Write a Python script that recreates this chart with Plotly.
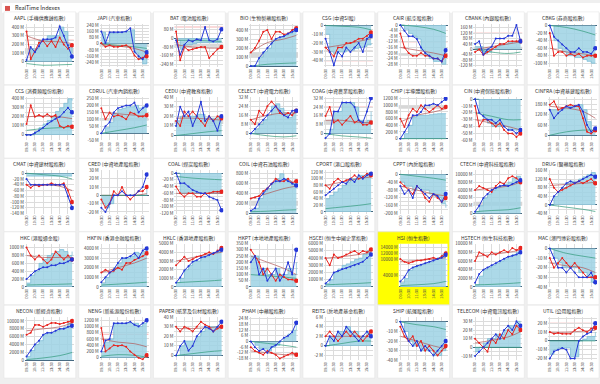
import math
import plotly.graph_objects as go

# ---------------- data ----------------
TIMES = ["09:30", "10:00", "10:30", "11:00", "11:30", "12:00",
         "13:30", "14:00", "14:30", "15:00", "15:30", "16:00"]
TICK_TIMES = ["09:30", "10:30", "11:30", "13:30", "14:30", "15:30"]
SMOOTH_IDX = [0, 4, 8, 11]

KEYS = ["AAPL", "JAPI", "BAT", "BIO", "CSG", "CAIR", "CBANK", "CBKG",
        "CCS", "CDRUL", "CEDU", "CELECT", "COAG", "CHIP", "CIN", "CINFRA",
        "CMAT", "CRED", "COAL", "COIL", "CPORT", "CPPT", "CTECH", "DRUG",
        "HKC", "HKFIN", "HKLC", "HKPT", "HSCEI", "HSI", "HSTECH", "MAC",
        "NECON", "NENG", "PAPER", "PHAM", "REITS", "SHIP", "TELECOM", "UTIL"]

TITLES = ["AAPL (手機供應鏈指數)", "JAPI (汽車指數)", "BAT (電池股指數)", "BIO (生物製藥股指數)",
          "CSG (中資SI股)", "CAIR (航空股指數)", "CBANK (內銀股指數)", "CBKG (券商股指數)",
          "CCS (消費類股份指數)", "CDRUL (汽車內銷指數)", "CEDU (中資教育指數)", "CELECT (中資電力指數)",
          "COAG (中資農業股指數)", "CHIP (半導體股指數)", "CIN (中資保險股指數)", "CINFRA (中資基建股指數)",
          "CMAT (中資建材股指數)", "CRED (中資地產股指數)", "COAL (煤炭股指數)", "COIL (中資石油股指數)",
          "CPORT (港口股指數)", "CPPT (內房股指數)", "CTECH (中資科技股指數)", "DRUG (醫藥股指數)",
          "HKC (港股通金股)", "HKFIN (香港金融股指數)", "HKLC (香港地產股指數)", "HKPT (本地地產股指數)",
          "HSCEI (恒生中國企業指數)", "HSI (恒生指數)", "HSTECH (恒生科技指數)", "MAC (澳門博彩股指數)",
          "NECON (新經濟指數)", "NENG (新能源股份指數)", "PAPER (紙業及包材股指數)", "PHAM (中藥股指數)",
          "REITS (房地產基金指數)", "SHIP (航運股指數)", "TELECOM (中資電訊股指數)", "UTIL (公用股指數)"]

# y axis per panel: [min, max, label step, grid step]
YRANGES = [[-60, 440, 100, 50], [-300, 260, 80, 40], [-260, 130, 80, 40], [-10, 470, 100, 50],
           [-47, 2, 10, 5], [-30, 1, 4, 4], [-130, 190, 40, 40], [-110, 5, 20, 20],
           [-60, 420, 100, 50], [-50, 260, 50, 50], [-5, 40, 10, 5], [-6, 32, 8, 4],
           [-6, 33, 8, 4], [-50, 1250, 200, 200], [-60, 3, 10, 10], [-30, 225, 60, 30],
           [-140, 10, 20, 20], [-22, 30, 10, 10], [-120, 8, 20, 10], [-10, 870, 200, 100],
           [-5, 125, 20, 20], [-200, 20, 40, 20], [0, 11000, 2000, 2000], [-40, 160, 40, 20],
           [0, 1100, 200, 200], [0, 4500, 1000, 500], [0, 5000, 1000, 1000], [0, 350, 50, 50],
           [0, 6000, 1000, 1000], [0, 15500, 2000, 2000], [0, 10000, 2000, 2000], [-40, 5, 10, 5],
           [0, 11000, 2000, 2000], [-80, 1300, 200, 200], [-5, 40, 10, 5], [-20, 26, 6, 6],
           [-3, 6, 2, 1], [-40, 5, 10, 5], [-15, 35, 10, 5], [-22, 27, 10, 5]]
HSI_TICKS = [4000, 10000, 12000, 14000]

BANDS = [[100, 150], [-40, 0], [-90, -50], [100, 150], [-30, -28], [-22, -20], [0, 20], None,
         None, [90, 110], [12, 16], [8, 10], [8, 12], [900, 1000], None, None,
         None, None, None, [150, 250], None, None, [2000, 3000], None,
         None, None, None, None, None, None, None, None,
         None, None, None, None, None, None, None, None]
LEVELS = [250, None, 100, None, -40, -12, 120, None,
          None, None, 30, None, 24, None, None, None,
          -60, None, None, None, None, None, None, None,
          None, None, None, None, None, None, None, None,
          None, 750, None, None, None, None, None, 20]

AAPL_AREA = [10, 150, 150, 250, 250, 300, 300, 300, 400, 350, 200, 100]
AAPL_BLUE = [20, 170, 110, 180, 260, 260, 260, 280, 410, 300, 190, 60]
AAPL_RED = [350, 30, 120, 220, 240, 180, 240, 170, 280, 200, 150, 190]
AAPL_MA = [300, 240, 230, 210]
AAPL_GREEN = [-20, -40, -35, -30]

JAPI_AREA = [150, 20, 140, 140, 150, 150, 160, 180, -120, -200, -260, -150]
JAPI_BLUE = [160, 10, 150, 150, 150, 150, 160, 200, -100, -160, -200, -110]
JAPI_RED = [10, -40, -20, -40, -40, -30, -20, -50, -150, -200, -180, -160]
JAPI_MA = [-10, -30, -60, -110]
JAPI_GREEN = [0, -20, -40, -60]

BAT_AREA = [-20, -100, -60, -60, -50, -40, -40, -40, -40, -40, -40, -40]
BAT_BLUE = [-20, -150, -60, -20, -30, -10, -20, 100, -20, -30, -10, 80]
BAT_RED = [60, -200, -80, -110, -100, -90, -80, -80, -180, -140, -100, -80]
BAT_MA = [-60, -80, -90, -90]
BAT_GREEN = [-20, -20, -25, -30]

BIO_AREA = [0, 0, 100, 160, 200, 280, 300, 320, 340, 360, 400, 430]
BIO_BLUE = [0, 0, 90, 150, 200, 250, 300, 320, 330, 360, 380, 400]
BIO_RED = [150, 200, 280, 380, 400, 300, 380, 380, 350, 360, 400, 420]
BIO_MA = [150, 260, 300, 340]
BIO_GREEN = [0, 20, 30, 35]

CSG_AREA = [-10, -30, -32, -30, -30, -28, -28, -26, -25, -24, -22, -20]
CSG_BLUE = [-15, -30, -45, -30, -35, -25, -30, -25, -20, -30, -15, -12]
CSG_RED = [-25, -30, -35, -25, -25, -20, -20, -18, -15, -15, -12, -8]
CSG_MA = [-25, -22, -18, -15]
CSG_GREEN = [0, -1, -2, -5]

CAIR_AREA = [0, -3, -6, -8, -10, -18, -22, -24, -26, -26, -28, -24]
CAIR_BLUE = [0, -4, -8, -8, -10, -16, -20, -22, -24, -24, -26, -18]
CAIR_RED = [-6, -16, -20, -22, -22, -20, -22, -22, -24, -24, -26, -22]
CAIR_MA = [-16, -18, -20, -22]
CAIR_GREEN = [0, -1, -3, -6]

CBANK_AREA = [20, 20, -30, -20, 0, 20, 40, 40, 50, 60, 60, 60]
CBANK_BLUE = [40, 60, -40, 0, 20, 80, 80, 80, 100, 100, 180, 60]
CBANK_RED = [-20, 0, -40, -20, 0, 20, 40, 40, 60, 60, 60, 60]
CBANK_MA = [0, 20, 40, 55]
CBANK_GREEN = [0, -20, -30, -20]

CBKG_AREA = [0, -40, -60, -70, -80, -80, -85, -85, -90, -95, -100, -100]
CBKG_BLUE = [0, -30, -40, -50, -60, -70, -70, -60, -70, -70, -75, -60]
CBKG_RED = [-20, -80, -70, -70, -80, -75, -80, -75, -85, -80, -80, -80]
CBKG_MA = [-60, -70, -75, -80]
CBKG_GREEN = [0, -5, -15, -25]

CCS_AREA = [0, 0, 40, 80, 120, 160, 200, 260, 300, 350, 400, 380]
CCS_BLUE = [0, 0, 20, 50, 80, 120, 150, 180, 200, 250, 300, 250]
CCS_RED = [120, 330, 200, 220, 200, 230, 200, 220, 100, 80, 100, 90]
CCS_MA = [200, 210, 200, 180]
CCS_GREEN = [50, 70, 80, 90]

CDRUL_AREA = [0, 40, 80, 140, 170, 180, 190, 190, 200, 180, 190, 190]
CDRUL_BLUE = [0, 50, 80, 150, 180, 190, 200, 200, 220, 150, 180, 200]
CDRUL_RED = [180, 100, 150, 120, 130, 120, 100, 150, 140, 120, 120, 130]
CDRUL_MA = [150, 140, 130, 125]
CDRUL_GREEN = [0, 20, 40, 60]

CEDU_AREA = [15, 20, 20, 20, 20, 22, 22, 18, 18, 18, 20, 20]
CEDU_BLUE = [10, 30, 20, 25, 10, 20, 35, 15, 20, 15, 5, 20]
CEDU_RED = [15, 10, 25, 20, 25, 20, 15, 10, 20, 15, 20, 18]
CEDU_MA = [18, 18, 17, 16]
CEDU_GREEN = [0, 2, 4, 5]

CELECT_AREA = [0, 4, 8, 12, 16, 24, 26, 22, 18, 14, 18, 20]
CELECT_BLUE = [0, 4, 8, 12, 16, 20, 24, 20, 16, 14, 20, 20]
CELECT_RED = [12, 8, 20, 16, 24, 28, 24, 18, 16, 18, 16, 20]
CELECT_MA = [12, 16, 18, 18]
CELECT_GREEN = [0, -2, -3, -2]

COAG_AREA = [0, 4, 20, 20, 28, 28, 28, 24, 12, 10, 12, 20]
COAG_BLUE = [-4, 0, 20, 20, 28, 28, 28, 24, 12, 10, 20, 32]
COAG_RED = [16, 24, 10, 12, 8, 12, 16, 10, 12, 8, 8, 10]
COAG_MA = [12, 12, 10, 10]
COAG_GREEN = [0, -2, -3, -4]

CHIP_AREA = [0, 150, 400, 650, 700, 700, 700, 720, 740, 750, 750, 760]
CHIP_BLUE = [0, 200, 400, 700, 700, 800, 1000, 1000, 1050, 1000, 1100, 1200]
CHIP_RED = [600, 350, 700, 900, 800, 1000, 900, 800, 900, 1000, 900, 950]
CHIP_MA = [500, 700, 800, 900]
CHIP_GREEN = [0, 0, 0, 0]

CIN_AREA = [0, -20, -30, -35, -40, -40, -40, -40, -45, -45, -45, -45]
CIN_BLUE = [0, -20, -25, -30, -30, -35, -30, -40, -45, -45, -50, -45]
CIN_RED = [-10, -40, -30, -30, -35, -40, -35, -45, -50, -50, -55, -50]
CIN_MA = [-30, -35, -40, -45]
CIN_GREEN = [-20, -25, -30, -30]

CINFRA_AREA = [150, 150, 150, 160, 170, 170, 175, 180, 150, 80, 30, 40]
CINFRA_BLUE = [150, 100, 130, 150, 170, 160, 170, 180, 140, 60, 20, 40]
CINFRA_RED = [180, 200, 150, 160, 170, 180, 170, 170, 100, 20, 10, 30]
CINFRA_MA = [170, 160, 140, 100]
CINFRA_GREEN = [0, 20, 30, 30]

CMAT_AREA = [-10, -10, -10, -10, -10, -10, -10, -10, -10, -10, -10, -10]
CMAT_BLUE = [-20, -40, -40, -40, -40, -40, -40, -40, -40, -40, -80, -120]
CMAT_RED = [-40, -50, -40, -45, -40, -40, -35, -40, -40, -35, -60, -100]
CMAT_MA = [-40, -40, -45, -60]
CMAT_GREEN = [0, -5, -10, -20]

CRED_AREA = [-10, -15, -10, 0, 0, 0, 0, 0, 0, 0, 0, 10]
CRED_BLUE = [-15, -20, -10, 0, 0, 5, 0, 0, 0, 5, 10, 25]
CRED_RED = [-5, -15, -10, 5, 0, 10, 0, -5, 0, 5, 5, 10]
CRED_MA = [0, 0, 0, 2]
CRED_GREEN = [0, 0, 0, 0]

COAL_AREA = [0, -60, -60, -60, -60, -60, -60, -60, -60, -60, -60, -60]
COAL_BLUE = [0, -30, -30, -40, -50, -55, -60, -60, -70, -75, -80, -110]
COAL_RED = [-40, -60, -70, -60, -60, -70, -70, -60, -60, -55, -55, -55]
COAL_MA = [-60, -60, -60, -60]
COAL_GREEN = [-10, -15, -18, -20]

COIL_AREA = [50, 100, 300, 450, 500, 600, 700, 800, 700, 650, 600, 600]
COIL_BLUE = [50, 100, 300, 400, 500, 600, 650, 650, 700, 650, 600, 560]
COIL_RED = [300, 320, 350, 450, 500, 600, 700, 650, 650, 700, 620, 650]
COIL_MA = [300, 400, 500, 550]
COIL_GREEN = [30, 40, 60, 70]

CPORT_AREA = [40, 50, 60, 70, 80, 90, 100, 100, 110, 110, 115, 115]
CPORT_BLUE = [50, 60, 70, 80, 90, 85, 100, 90, 110, 100, 110, 115]
CPORT_RED = [80, 70, 90, 100, 90, 95, 100, 110, 100, 105, 115, 110]
CPORT_MA = [80, 90, 100, 105]
CPORT_GREEN = [10, 15, 20, 25]

CPPT_AREA = [-40, -60, -60, -80, -70, -80, -80, -100, -110, -120, -150, -170]
CPPT_BLUE = [-60, -100, -80, -120, -60, -80, -100, -120, -100, -110, -140, -100]
CPPT_RED = [-40, -60, -80, -100, -60, -80, -120, -140, -100, -120, -140, -120]
CPPT_MA = [-60, -80, -100, -110]
CPPT_GREEN = [0, -10, -20, -30]

CTECH_AREA = [500, 2000, 4000, 5000, 6000, 6500, 7000, 7500, 8000, 9000, 9500, 9000]
CTECH_BLUE = [500, 2000, 4000, 5000, 6000, 6500, 7000, 7200, 7000, 7500, 8000, 8500]
CTECH_RED = [6000, 7000, 6500, 6000, 5500, 7000, 8000, 7500, 9000, 9500, 9000, 8000]
CTECH_MA = [6000, 6500, 7000, 8000]
CTECH_GREEN = [500, 800, 1000, 1500]

DRUG_AREA = [0, 40, 60, 80, 100, 110, 110, 120, 130, 140, 150, 140]
DRUG_BLUE = [0, 40, 60, 80, 100, 110, 100, 110, 120, 130, 140, 130]
DRUG_RED = [120, 80, 60, 70, 80, 90, 100, 110, 100, 110, 120, 100]
DRUG_MA = [90, 95, 100, 105]
DRUG_GREEN = [0, -10, -20, -30]

HKC_AREA = [100, 300, 400, 600, 700, 800, 850, 900, 950, 900, 800, 900]
HKC_BLUE = [200, 300, 400, 450, 500, 500, 550, 550, 600, 600, 650, 700]
HKC_RED = [1000, 800, 700, 800, 700, 600, 700, 900, 800, 700, 800, 700]
HKC_MA = [800, 750, 750, 740]
HKC_GREEN = [50, 60, 70, 80]

HKFIN_AREA = [400, 1000, 1500, 2000, 2500, 3000, 3000, 3200, 3600, 3500, 3700, 3900]
HKFIN_BLUE = [500, 1000, 1500, 1800, 2500, 3000, 3000, 3200, 3500, 3000, 3800, 4000]
HKFIN_RED = [1500, 1800, 1500, 1700, 2000, 1800, 2500, 2500, 2800, 3000, 3200, 3500]
HKFIN_MA = [1500, 2000, 2500, 3000]
HKFIN_GREEN = [200, 300, 400, 500]

HKLC_AREA = [500, 1000, 2000, 2500, 3000, 3000, 3500, 3500, 3800, 4000, 4200, 4300]
HKLC_BLUE = [500, 1100, 1900, 2400, 2900, 3100, 3400, 3500, 3700, 3900, 4100, 4300]
HKLC_RED = [2500, 3000, 3500, 3000, 3200, 3500, 3600, 3800, 4000, 3800, 4200, 4500]
HKLC_MA = [3000, 3400, 3800, 4000]
HKLC_GREEN = [500, 600, 700, 800]

HKPT_AREA = [250, 250, 150, 150, 100, 100, 150, 100, 100, 150, 100, 200]
HKPT_BLUE = [200, 250, 100, 150, 50, 100, 150, 50, 100, 200, 100, 300]
HKPT_RED = [300, 250, 200, 100, 150, 100, 50, 100, 80, 60, 60, 50]
HKPT_MA = [250, 200, 150, 100]
HKPT_GREEN = [100, 90, 80, 70]

HSCEI_AREA = [500, 1000, 2000, 2500, 3000, 3200, 3500, 3800, 4000, 4500, 5000, 5200]
HSCEI_BLUE = [500, 1000, 2000, 2200, 2500, 2600, 2800, 3000, 3200, 3500, 4000, 4500]
HSCEI_RED = [4000, 3000, 4500, 4000, 4200, 4500, 4800, 5000, 4600, 5000, 4800, 5200]
HSCEI_MA = [4000, 4200, 4500, 4800]
HSCEI_GREEN = [300, 400, 500, 600]

HSI_AREA = [1500, 3000, 6000, 7000, 7500, 8000, 8500, 9000, 10000, 10500, 11500, 13000]
HSI_BLUE = [2000, 3500, 6000, 7000, 7500, 8000, 8500, 9000, 9500, 10000, 10500, 11500]
HSI_RED = [10000, 9000, 8500, 9000, 9500, 9500, 9800, 10000, 10500, 10000, 11000, 12000]
HSI_MA = [9000, 9500, 10000, 10500]
HSI_GREEN = [500, 800, 1200, 2000]

HSTECH_AREA = [500, 2500, 4000, 4500, 5000, 5500, 6000, 6500, 7000, 7500, 8000, 8500]
HSTECH_BLUE = [1000, 3000, 4000, 4500, 5000, 5500, 6000, 6500, 7000, 7200, 7500, 8000]
HSTECH_RED = [6000, 8000, 7500, 7000, 8000, 7500, 8000, 8500, 8000, 9000, 8500, 9000]
HSTECH_MA = [7000, 7500, 8000, 8500]
HSTECH_GREEN = [500, 600, 800, 1000]

MAC_AREA = [0, -10, -15, -20, -20, -20, -20, -25, -25, -30, -35, -38]
MAC_BLUE = [0, -10, -20, -20, -25, -20, -25, -30, -30, -30, -25, -35]
MAC_RED = [-10, -20, -15, -10, -15, -20, -15, -20, -25, -30, -30, -30]
MAC_MA = [-15, -18, -20, -25]
MAC_GREEN = [0, -5, -8, -10]

NECON_AREA = [1000, 2500, 4000, 5000, 6500, 7000, 7000, 7500, 8000, 8500, 9500, 10500]
NECON_BLUE = [1000, 2500, 4000, 5000, 6500, 7000, 7000, 7500, 8000, 8000, 8500, 8800]
NECON_RED = [6500, 7000, 9000, 9000, 8500, 9000, 9500, 9500, 9200, 9500, 9800, 10000]
NECON_MA = [7500, 8000, 8500, 9500]
NECON_GREEN = [200, 600, 1200, 2000]

NENG_AREA = [200, 500, 600, 1100, 1100, 1100, 1100, 1100, 1100, 1000, 1100, 1200]
NENG_BLUE = [200, 550, 600, 1100, 1100, 1100, 1100, 1150, 1050, 1000, 1100, 1200]
NENG_RED = [950, 200, 300, 400, 380, 400, 350, 200, 100, 0, -50, 80]
NENG_MA = [600, 500, 450, 350]
NENG_GREEN = [50, 100, 80, 20]

PAPER_AREA = [0, 10, 15, 15, 15, 20, 25, 30, 30, 30, 30, 35]
PAPER_BLUE = [0, 10, 15, 5, 10, 20, 25, 30, 28, 25, 30, 35]
PAPER_RED = [30, 25, 30, 28, 25, 30, 35, 32, 30, 25, 28, 30]
PAPER_MA = [28, 28, 29, 30]
PAPER_GREEN = [0, 2, 4, 5]

PHAM_AREA = [0, -4, -8, -8, -10, -6, -4, 0, 4, 8, 12, 18]
PHAM_BLUE = [0, -6, -10, -8, -12, -6, -4, 0, 4, 6, 10, 20]
PHAM_RED = [-6, -10, -12, -14, -10, -12, -14, -18, -16, -14, -12, -14]
PHAM_MA = [-10, -12, -14, -14]
PHAM_GREEN = [0, -2, -4, -6]

REITS_AREA = [0, 2, 2, 3, 3, 4, 3, 3, 2, 2, 3, 3]
REITS_BLUE = [0, 2, 1, 3, 2, 4, 3, 2, 1, 2, 3, 2]
REITS_RED = [2, 3, 2, 1, 2, 3, 2, 3, 2, 1, 2, 3]
REITS_MA = [2, 2, 2, 2]
REITS_GREEN = [0, 0.5, 1, 1]

SHIP_AREA = [0, -10, -20, -25, -25, -30, -30, -30, -35, -35, -30, -25]
SHIP_BLUE = [0, -10, -20, -25, -20, -30, -25, -30, -35, -30, -25, -20]
SHIP_RED = [-5, -15, -20, -15, -25, -20, -30, -25, -30, -35, -30, -25]
SHIP_MA = [-15, -20, -25, -28]
SHIP_GREEN = [0, -3, -5, -8]

TELECOM_AREA = [-5, 0, 5, 10, 10, 15, 15, 20, 25, 25, 30, 30]
TELECOM_BLUE = [-10, -5, 0, 5, 10, 15, 10, 20, 25, 20, 30, 25]
TELECOM_RED = [10, 5, 0, -5, 10, 5, 15, 10, 20, 15, 25, 20]
TELECOM_MA = [5, 8, 12, 18]
TELECOM_GREEN = [0, 0, 0, 0]

UTIL_AREA = [-15, -10, -8, -8, -8, -18, -18, 0, 2, 5, 5, 10]
UTIL_BLUE = [-20, -12, -10, -8, -10, -20, -20, 0, 5, 8, 10, 20]
UTIL_RED = [10, 8, 9, 8, 8, 8, 12, 15, 12, 10, 14, 15]
UTIL_MA = [10, 10, 11, 12]
UTIL_GREEN = [0, 0, 0, 0]

# ---------------- styling / layout ----------------
W, H = 600, 384
FONT = "Noto Sans CJK TC, Noto Sans, sans-serif"
BLUE = "#2437d8"
RED = "#e8231e"
AREA_FILL = "rgba(158,210,228,0.85)"
AREA_LINE = "#74b9d4"
MA_COL = "#b05858"
GREEN_COL = "#2f9a7a"

COL_W = 75
ROW_H = 74.5

fig = go.Figure()
shapes = []
annotations = []
layout_axes = {}

# window title bar
shapes.append(dict(type="rect", xref="paper", yref="paper", x0=0, x1=1,
                   y0=1 - 10 / H, y1=1, fillcolor="#ffffff", line_width=0, layer="below"))
shapes.append(dict(type="rect", xref="paper", yref="paper", x0=3 / W, x1=8 / W,
                   y0=1 - 8 / H, y1=1 - 3 / H, fillcolor="#d9534f", line_width=0, layer="below"))
annotations.append(dict(text="RealTime Indexes", xref="paper", yref="paper",
                        x=11 / W, y=1 - 5.5 / H, xanchor="left", yanchor="middle",
                        showarrow=False, font=dict(size=5.5, color="#222", family=FONT)))


def make_ticks(lo, hi, step):
    start = math.ceil(lo / step) * step
    vals = []
    v = start
    while v <= hi + 1e-9:
        vals.append(v)
        v += step
    return vals


def is_multiple(v, step):
    q = v / step
    return abs(q - round(q)) < 1e-9


for i, key in enumerate(KEYS):
    r, c = divmod(i, 8)
    n = i + 1
    xa = "x" if n == 1 else f"x{n}"
    ya = "y" if n == 1 else f"y{n}"
    xname = "xaxis" if n == 1 else f"xaxis{n}"
    yname = "yaxis" if n == 1 else f"yaxis{n}"

    area = globals()[key + "_AREA"]
    blue = globals()[key + "_BLUE"]
    red = globals()[key + "_RED"]
    ma = globals()[key + "_MA"]
    green = globals()[key + "_GREEN"]
    lo, hi, lstep, gstep = YRANGES[i]

    # panel geometry in pixels
    pl, pr = COL_W * c + 2, COL_W * c + 74
    pt, pb = 9 + ROW_H * r, 83 + ROW_H * r
    al, ar = COL_W * c + 23, COL_W * c + 72
    at, ab = 21 + ROW_H * r, 65 + ROW_H * r

    panel_col = "#ffff00" if key == "HSI" else "#ffffff"
    shapes.append(dict(type="rect", xref="paper", yref="paper",
                       x0=pl / W, x1=pr / W, y0=1 - pb / H, y1=1 - pt / H,
                       fillcolor=panel_col, line=dict(color="#e2e2e2", width=0.5), layer="below"))
    shapes.append(dict(type="rect", xref="paper", yref="paper",
                       x0=al / W, x1=ar / W, y0=1 - ab / H, y1=1 - at / H,
                       fillcolor="#ffffff", line_width=0, layer="below"))

    annotations.append(dict(text=TITLES[i], xref="paper", yref="paper",
                            x=(pl + pr) / 2 / W, y=1 - (15 + ROW_H * r) / H,
                            xanchor="center", yanchor="middle", showarrow=False,
                            font=dict(size=5, color="#333", family=FONT)))

    tv = make_ticks(lo, hi, gstep)
    if key == "HSI":
        tt = [f"{v} M" if v in HSI_TICKS else "" for v in tv]
    else:
        tt = [("" if not is_multiple(v, lstep) else ("0" if v == 0 else f"{v} M")) for v in tv]

    layout_axes[xname] = dict(domain=[al / W, ar / W], anchor=ya, type="category",
                              range=[-0.4, len(TIMES) - 0.6], tickmode="array",
                              tickvals=TICK_TIMES, ticktext=TICK_TIMES, tickangle=-90,
                              tickfont=dict(size=4, color="#444", family=FONT),
                              showgrid=True, gridcolor="#dcdcdc", gridwidth=0.5,
                              ticks="", showline=False, zeroline=False, fixedrange=True)
    layout_axes[yname] = dict(domain=[1 - ab / H, 1 - at / H], anchor=xa,
                              range=[lo, hi], tickmode="array", tickvals=tv, ticktext=tt,
                              tickfont=dict(size=4.5, color="#444", family=FONT),
                              showgrid=True, gridcolor="#dcdcdc", gridwidth=0.5,
                              ticks="", showline=False, zeroline=True,
                              zerolinecolor="#44667e", zerolinewidth=1, fixedrange=True)

    band = BANDS[i]
    if band is not None:
        shapes.append(dict(type="rect", xref=f"{xa} domain", yref=ya, x0=0, x1=1,
                           y0=band[0], y1=band[1], fillcolor="rgba(150,150,150,0.38)",
                           line_width=0, layer="below"))
    level = LEVELS[i]
    if level is not None:
        shapes.append(dict(type="line", xref=f"{xa} domain", yref=ya, x0=0, x1=1,
                           y0=level, y1=level, line=dict(color="#f08080", width=0.6),
                           layer="below"))

    smooth_x = [TIMES[k] for k in SMOOTH_IDX]
    fig.add_trace(go.Scatter(x=TIMES, y=area, mode="lines", line=dict(shape="hv", color=AREA_LINE, width=0.7),
                             fill="tozeroy", fillcolor=AREA_FILL, xaxis=xa, yaxis=ya, hoverinfo="skip"))
    fig.add_trace(go.Scatter(x=smooth_x, y=ma, mode="lines", line=dict(shape="spline", color=MA_COL, width=0.7),
                             xaxis=xa, yaxis=ya, hoverinfo="skip"))
    fig.add_trace(go.Scatter(x=smooth_x, y=green, mode="lines", line=dict(shape="spline", color=GREEN_COL, width=0.7),
                             xaxis=xa, yaxis=ya, hoverinfo="skip"))
    fig.add_trace(go.Scatter(x=TIMES, y=red, mode="lines+markers", line=dict(color=RED, width=1.0),
                             marker=dict(size=2.0, color=RED), xaxis=xa, yaxis=ya, hoverinfo="skip"))
    fig.add_trace(go.Scatter(x=TIMES, y=blue, mode="lines+markers", line=dict(color=BLUE, width=1.0),
                             marker=dict(size=2.0, color=BLUE), xaxis=xa, yaxis=ya, hoverinfo="skip"))
    fig.add_trace(go.Scatter(x=[TIMES[-1], TIMES[-1]], y=[red[-1], blue[-1]], mode="markers",
                             marker=dict(size=4.5, color=[RED, BLUE]), xaxis=xa, yaxis=ya, hoverinfo="skip"))

fig.update_layout(width=W, height=H, margin=dict(l=0, r=0, t=0, b=0),
                  paper_bgcolor="#efefef", plot_bgcolor="#ffffff",
                  showlegend=False, shapes=shapes, annotations=annotations,
                  font=dict(family=FONT), **layout_axes)

fig.write_html("out.html", config={"displayModeBar": False},
               post_script="document.body.style.margin='0px';document.body.style.overflow='hidden';")
